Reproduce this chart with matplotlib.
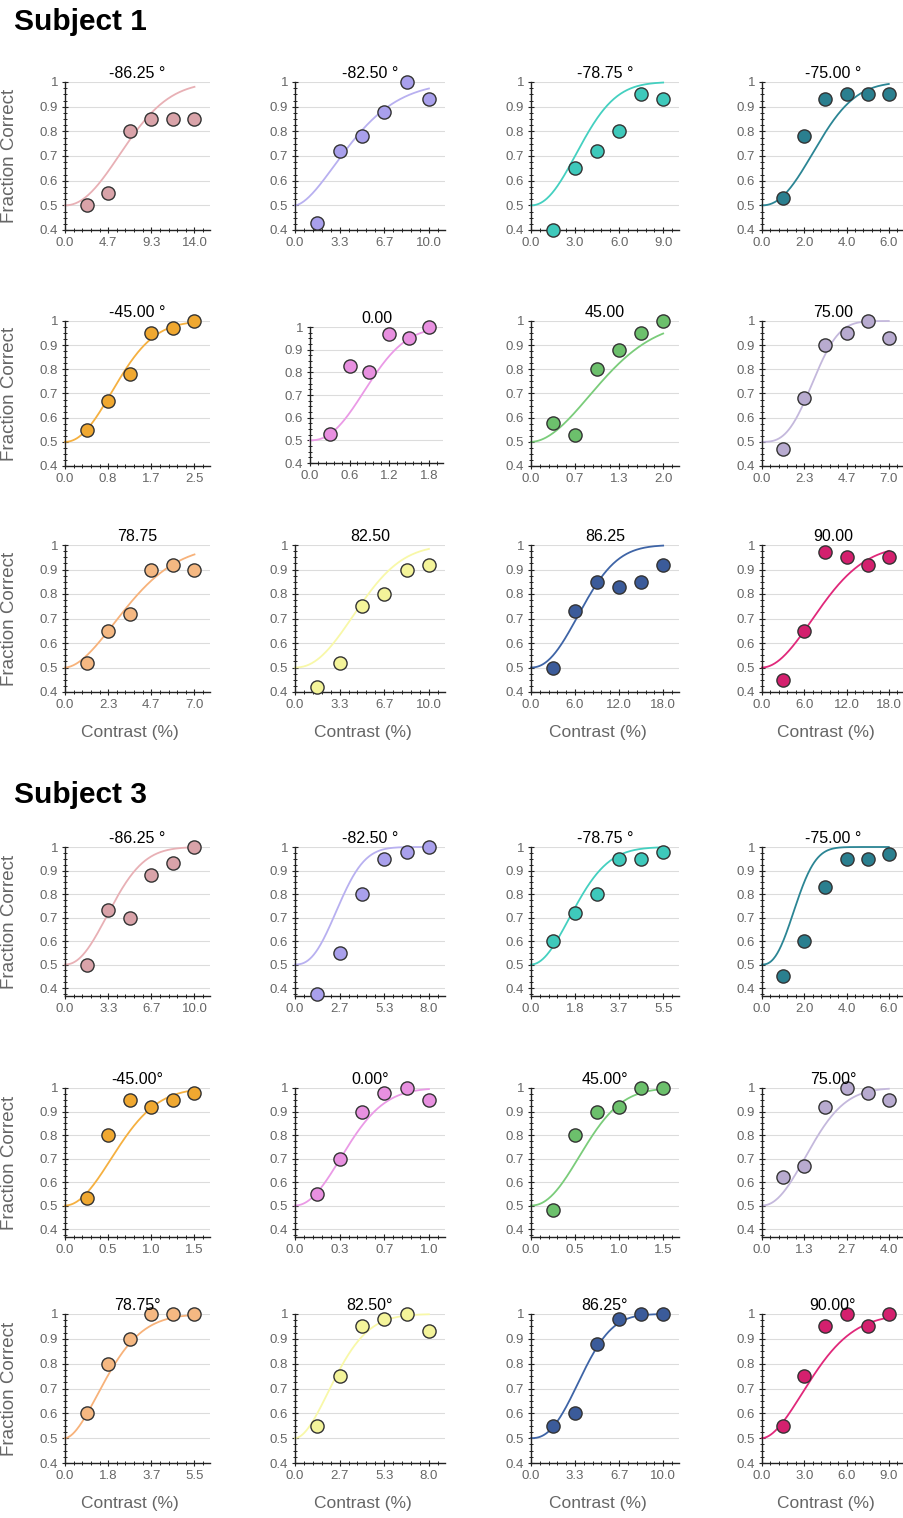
import numpy as np
import matplotlib.pyplot as plt
from matplotlib.ticker import MultipleLocator

plt.rcParams['font.family'] = ['Liberation Sans', 'DejaVu Sans']

W, H = 904, 1518

orientations = ["-86.25", "-82.50", "-78.75", "-75.00", "-45.00", "0.00",
                "45.00", "75.00", "78.75", "82.50", "86.25", "90.00"]

point_colors = ["#d9a3a9", "#a9a0ec", "#3ec9bb", "#2a7f8f", "#f0a830", "#e890e0",
                "#6cc06c", "#b8abd0", "#f5b882", "#f4f49a", "#3b5b9a", "#d4206e"]
curve_colors = ["#e8b0b5", "#b8b0f0", "#44d0c0", "#2b8594", "#f5b040", "#ea9ae6",
                "#7acc7a", "#c4b8dc", "#f7b27a", "#f8f8a8", "#3e64a6", "#e0287a"]

# ---- Subject 1 ----
s1_titles = ["-86.25 °", "-82.50 °", "-78.75 °", "-75.00 °", "-45.00 °", "0.00",
             "45.00", "75.00", "78.75", "82.50", "86.25", "90.00"]
s1_contrast = [
    [2.333, 4.667, 7.0, 9.333, 11.667, 14.0],
    [1.667, 3.333, 5.0, 6.667, 8.333, 10.0],
    [1.5, 3.0, 4.5, 6.0, 7.5, 9.0],
    [1.0, 2.0, 3.0, 4.0, 5.0, 6.0],
    [0.417, 0.833, 1.25, 1.667, 2.083, 2.5],
    [0.3, 0.6, 0.9, 1.2, 1.5, 1.8],
    [0.333, 0.667, 1.0, 1.333, 1.667, 2.0],
    [1.167, 2.333, 3.5, 4.667, 5.833, 7.0],
    [1.167, 2.333, 3.5, 4.667, 5.833, 7.0],
    [1.667, 3.333, 5.0, 6.667, 8.333, 10.0],
    [3.0, 6.0, 9.0, 12.0, 15.0, 18.0],
    [3.0, 6.0, 9.0, 12.0, 15.0, 18.0],
]
s1_fraction = [
    [0.50, 0.55, 0.80, 0.85, 0.85, 0.85],
    [0.43, 0.72, 0.78, 0.88, 1.00, 0.93],
    [0.40, 0.65, 0.72, 0.80, 0.95, 0.93],
    [0.53, 0.78, 0.93, 0.95, 0.95, 0.95],
    [0.55, 0.67, 0.78, 0.95, 0.97, 1.00],
    [0.53, 0.83, 0.80, 0.97, 0.95, 1.00],
    [0.58, 0.53, 0.80, 0.88, 0.95, 1.00],
    [0.47, 0.68, 0.90, 0.95, 1.00, 0.93],
    [0.52, 0.65, 0.72, 0.90, 0.92, 0.90],
    [0.42, 0.52, 0.75, 0.80, 0.90, 0.92],
    [0.50, 0.73, 0.85, 0.83, 0.85, 0.92],
    [0.45, 0.65, 0.97, 0.95, 0.92, 0.95],
]
# weibull fit (threshold, slope)
s1_threshold = [8.0, 5.2, 4.1, 3.15, 1.22, 1.05, 1.3, 3.2, 4.15, 5.7, 8.4, 10.2]
s1_slope = [2.1, 1.65, 2.15, 2.2, 2.1, 2.3, 1.9, 2.9, 1.8, 2.2, 2.2, 1.95]

# ---- Subject 3 ----
s3_titles = ["-86.25 °", "-82.50 °", "-78.75 °", "-75.00 °", "-45.00°", "0.00°",
             "45.00°", "75.00°", "78.75°", "82.50°", "86.25°", "90.00°"]
s3_contrast = [
    [1.667, 3.333, 5.0, 6.667, 8.333, 10.0],
    [1.333, 2.667, 4.0, 5.333, 6.667, 8.0],
    [0.917, 1.833, 2.75, 3.667, 4.583, 5.5],
    [1.0, 2.0, 3.0, 4.0, 5.0, 6.0],
    [0.25, 0.5, 0.75, 1.0, 1.25, 1.5],
    [0.167, 0.333, 0.5, 0.667, 0.833, 1.0],
    [0.25, 0.5, 0.75, 1.0, 1.25, 1.5],
    [0.667, 1.333, 2.0, 2.667, 3.333, 4.0],
    [0.917, 1.833, 2.75, 3.667, 4.583, 5.5],
    [1.333, 2.667, 4.0, 5.333, 6.667, 8.0],
    [1.667, 3.333, 5.0, 6.667, 8.333, 10.0],
    [1.5, 3.0, 4.5, 6.0, 7.5, 9.0],
]
s3_fraction = [
    [0.50, 0.73, 0.70, 0.88, 0.93, 1.00],
    [0.375, 0.55, 0.80, 0.95, 0.98, 1.00],
    [0.60, 0.72, 0.80, 0.95, 0.95, 0.98],
    [0.45, 0.60, 0.83, 0.95, 0.95, 0.97],
    [0.53, 0.80, 0.95, 0.92, 0.95, 0.98],
    [0.55, 0.70, 0.90, 0.98, 1.00, 0.95],
    [0.48, 0.80, 0.90, 0.92, 1.00, 1.00],
    [0.62, 0.67, 0.92, 1.00, 0.98, 0.95],
    [0.60, 0.80, 0.90, 1.00, 1.00, 1.00],
    [0.55, 0.75, 0.95, 0.98, 1.00, 0.93],
    [0.55, 0.60, 0.88, 0.98, 1.00, 1.00],
    [0.55, 0.75, 0.95, 1.00, 0.95, 1.00],
]
s3_threshold = [4.33, 3.03, 2.25, 1.85, 0.75, 0.47, 0.73, 1.85, 2.23, 3.0, 4.45, 4.45]
s3_slope = [2.15, 2.45, 2.0, 2.45, 2.0, 2.05, 2.15, 2.1, 1.75, 1.85, 2.4, 1.8]

y_ticks = [0.4, 0.5, 0.6, 0.7, 0.8, 0.9, 1.0]
y_tick_labels = ["0.4", "0.5", "0.6", "0.7", "0.8", "0.9", "1"]

subjects = [
    ("Subject 1", s1_titles, s1_contrast, s1_fraction, s1_threshold, s1_slope, [0.4, 0.4, 0.4]),
    ("Subject 3", s3_titles, s3_contrast, s3_fraction, s3_threshold, s3_slope, [0.366, 0.366, 0.4]),
]

# layout in pixels
col_left = [65, 295, 531, 762]
col_right = [210, 445, 679, 904]
row_top = [82, 321, 545, 847, 1088, 1314]
row_bot = [230, 466, 692, 996, 1237, 1463]
subject_label_y = [22, 795]


def weibull(x, a, b):
    return 1 - 0.5 * np.exp(-(x / a) ** b)


fig = plt.figure(figsize=(W / 100, H / 100), dpi=100)

for s, (name, titles, contrast, fraction, thr, slope, ybots) in enumerate(subjects):
    fig.text(14 / W, 1 - subject_label_y[s] / H, name, fontsize=21.5, fontweight="bold",
             ha="left", va="center")
    for i in range(12):
        r, c = divmod(i, 4)
        row = s * 3 + r
        left, right = col_left[c], col_right[c]
        top, bot = row_top[row], row_bot[row]
        if s == 0 and r == 1 and c == 1:  # squeezed panel in the original
            left, right, top, bot = 310, 443, 327, 463
        ax = fig.add_axes([left / W, 1 - bot / H, (right - left) / W, (bot - top) / H])

        levels = contrast[i]
        xmax = levels[-1]
        ax.set_xlim(0, xmax * 1.12)
        ax.set_ylim(ybots[r], 1.0)

        xticks = [0.0] + levels[1::2]
        ax.set_xticks(xticks)
        ax.set_xticklabels([f"{t:.1f}" for t in xticks])
        ax.xaxis.set_minor_locator(MultipleLocator(xmax / 15))
        ax.set_yticks(y_ticks)
        ax.set_yticklabels(y_tick_labels)
        ax.yaxis.set_minor_locator(MultipleLocator(0.025))

        ax.grid(axis="y", color="#dcdcdc", lw=0.8)
        ax.set_axisbelow(True)
        for side in ["top", "right"]:
            ax.spines[side].set_visible(False)
        for side in ["left", "bottom"]:
            ax.spines[side].set_color("#222222")
            ax.spines[side].set_linewidth(1.0)
        ax.tick_params(which="both", direction="inout", color="#222222", labelsize=9.5,
                       labelcolor="#666666")
        ax.tick_params(which="major", length=4, width=0.8, pad=3)
        ax.tick_params(which="minor", length=2.5, width=0.7)

        xs = np.linspace(0, xmax, 200)
        ax.plot(xs, weibull(xs, thr[i], slope[i]), color=curve_colors[i], lw=1.3,
                clip_on=False, zorder=2)
        ax.plot(levels, fraction[i], "o", ms=9.5, mfc=point_colors[i], mec="#333333",
                mew=1.0, clip_on=False, zorder=3)

        ax.set_title(titles[i], fontsize=11.5, pad=3)

        h = bot - top
        if c == 0:
            ax.set_ylabel("Fraction Correct", fontsize=13.5, color="#666666")
            ax.yaxis.set_label_coords((18 - left) / (right - left), 0.5)
        if r == 2:
            ax.set_xlabel("Contrast (%)", fontsize=12.5, color="#666666")
            ax.xaxis.set_label_coords(0.45, -33 / h)

fig.savefig("out.png", dpi=100)
